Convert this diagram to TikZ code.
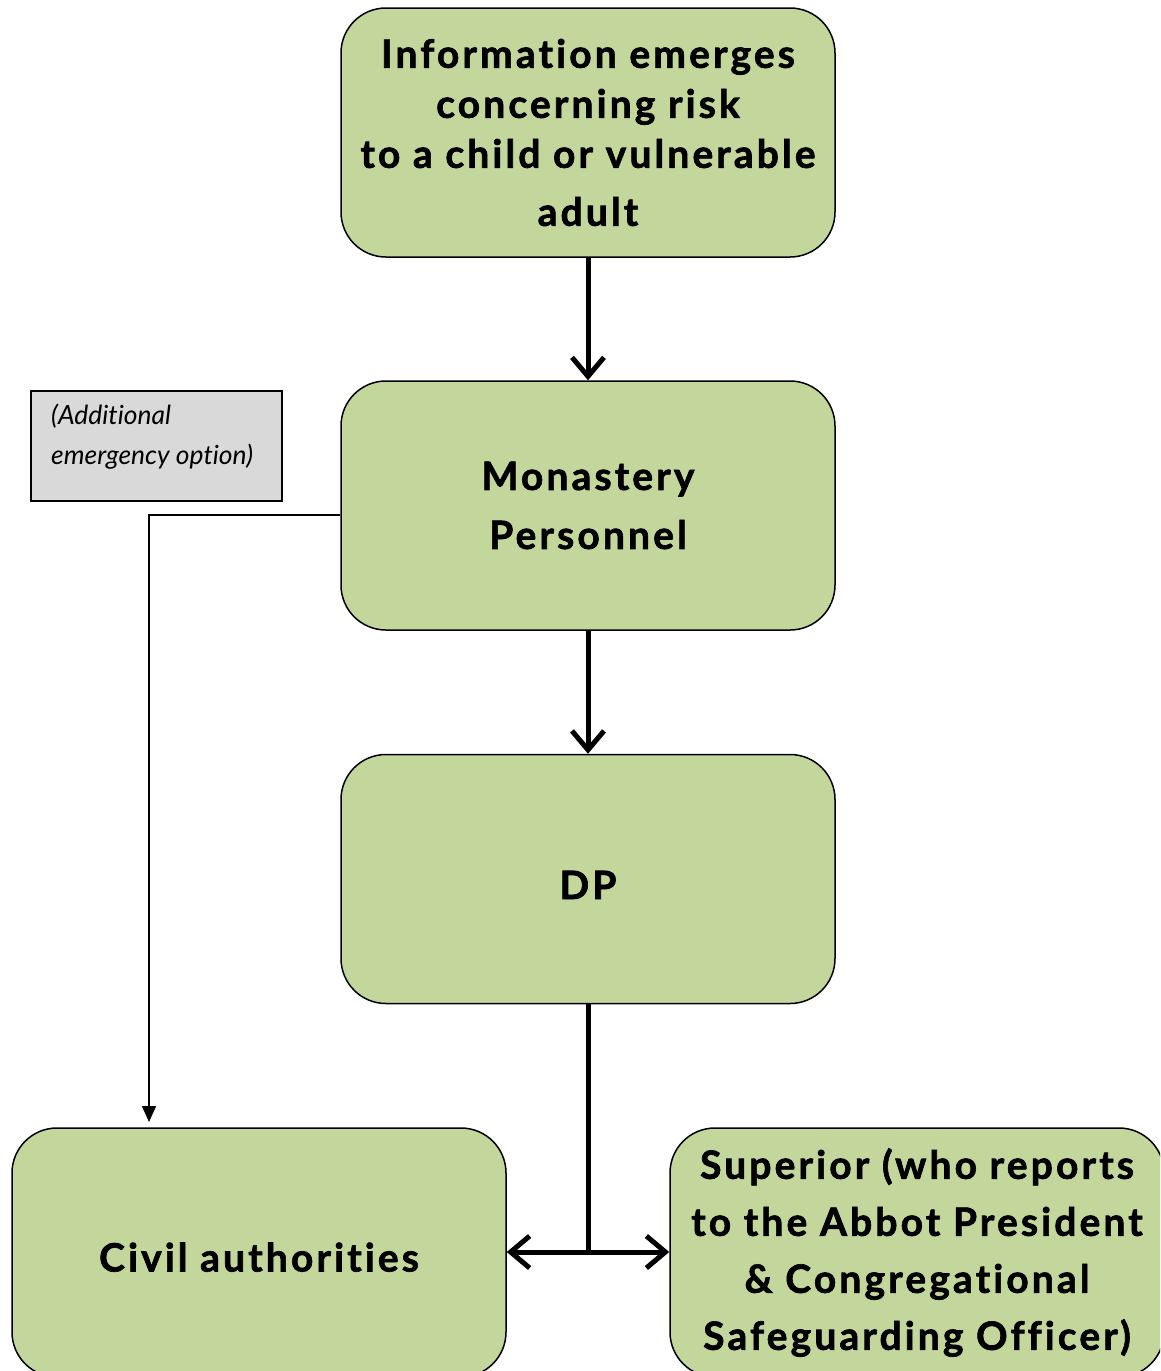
\documentclass[tikz,border=0pt]{standalone}
\usepackage{fontspec}
\setmainfont{Lato}[RawFeature={-liga;-dlig;-calt},BoldFeatures={FakeBold=1.6,LetterSpace=8}]
\usetikzlibrary{arrows.meta}
\definecolor{boxgreen}{HTML}{C3D69B}
\definecolor{boxgray}{HTML}{D9D9D9}
\tikzset{
  flowbox/.style={draw=black, line width=1.5pt, fill=boxgreen, rounded corners=45pt,
    minimum width=494pt, minimum height=249pt, align=center, inner sep=0pt,
    font=\fontsize{39}{50}\selectfont\bfseries},
  notebox/.style={draw=black, line width=1.5pt, fill=boxgray, minimum width=251pt,
    minimum height=110pt, inner sep=0pt},
  mainarrow/.style={line width=5pt, -{Straight Barb[length=19pt,width=32pt,line width=5pt]}},
  thinarrow/.style={line width=1.5pt, -{Triangle[length=16pt,width=14pt]}},
  notetext/.style={anchor=west, font=\fontsize{26.4}{30}\selectfont\itshape, inner sep=0pt}
}
\begin{document}
\begin{tikzpicture}[x=1pt,y=-1pt]
\useasboundingbox (0,0) rectangle (1160,1371);
\clip (0,0) rectangle (1160,1371);
\node[flowbox] (info) at (588,132.5) {Information emerges\\concerning risk\\to a child or vulnerable\\[8pt]adult};
\node[flowbox] (monk) at (588,505.5) {Monastery\\[9pt]Personnel};
\node[flowbox] (dp) at (588,879) {\smash{\raisebox{-20pt}{DP}}};
\node[flowbox] (civil) at (259,1252.5) {\smash{\raisebox{-19pt}{Civil authorities}}};
\node[flowbox] (sup) at (917,1252.5) {Superior (who reports\\[7pt]to the Abbot President\\[7pt]\& Congregational\\[7pt]Safeguarding Officer)};
\node[notebox] (note) at (156.5,446) {};
\node[notetext] (n1) at (51,416) {(Additional};
\node[notetext] (n2) at (51,457) {emergency option)};
\draw[mainarrow] (info.south) -- (monk.north);
\draw[mainarrow] (monk.south) -- (dp.north);
\coordinate (junc) at (588,1252);
\draw[line width=5pt] (dp.south) -- (junc);
\draw[mainarrow] (junc) -- (civil.east |- junc);
\draw[mainarrow] (junc) -- (sup.west |- junc);
\coordinate (bend) at (149,515);
\coordinate (tipend) at (149,1122);
\draw[thinarrow] (monk.west |- bend) -- (bend) -- (tipend);
\end{tikzpicture}
\end{document}
